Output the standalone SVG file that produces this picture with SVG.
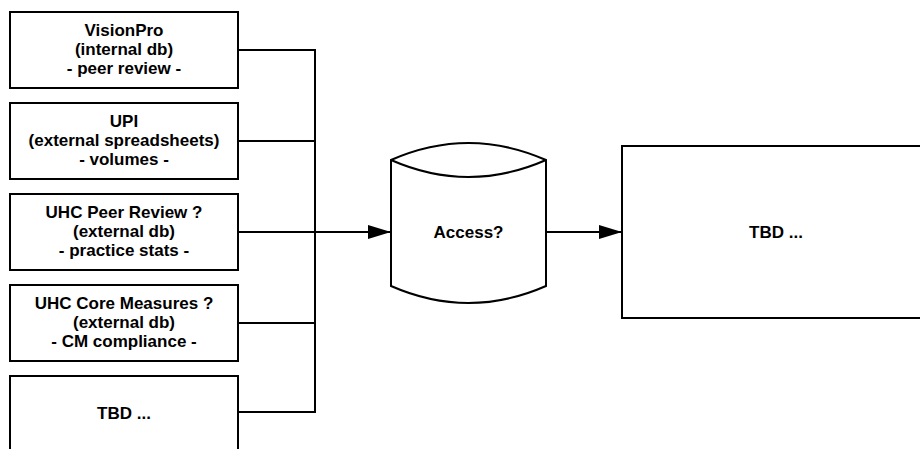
<svg xmlns="http://www.w3.org/2000/svg" width="920" height="449" viewBox="0 0 920 449">
<style>
.box{fill:#fff;stroke:#000;stroke-width:2}
.t{font-family:"Liberation Sans",Arial,sans-serif;font-weight:bold;font-size:17px;text-anchor:middle;fill:#000}
.c{fill:none;stroke:#000;stroke-width:2}
</style>
<defs>
<marker id="ah" markerUnits="userSpaceOnUse" markerWidth="24" markerHeight="16" refX="23" refY="7" orient="auto">
<polygon points="0,0 23,7 0,14" fill="#000"/>
</marker>
</defs>
<rect width="920" height="449" fill="#fff"/>
<g id="connectors">
<path class="c" d="M238,50 H315 V412 H238"/>
<path class="c" d="M238,141 H315"/>
<path class="c" d="M238,232 H315"/>
<path class="c" d="M238,323 H315"/>
<path class="c" d="M315,232 H391" stroke-width="3" marker-end="url(#ah)"/>
<path class="c" d="M546,232 H622" marker-end="url(#ah)"/>
</g>
<g id="n1">
<rect class="box" x="10" y="12" width="228" height="76"/>
<text class="t" x="124" y="36">VisionPro</text>
<text class="t" x="124" y="55">(internal db)</text>
<text class="t" x="124" y="74">- peer review -</text>
</g>
<g id="n2">
<rect class="box" x="10" y="103" width="228" height="76"/>
<text class="t" x="124" y="127">UPI</text>
<text class="t" x="124" y="146">(external spreadsheets)</text>
<text class="t" x="124" y="165">- volumes -</text>
</g>
<g id="n3">
<rect class="box" x="10" y="194" width="228" height="76"/>
<text class="t" x="124" y="218">UHC Peer Review ?</text>
<text class="t" x="124" y="237">(external db)</text>
<text class="t" x="124" y="256">- practice stats -</text>
</g>
<g id="n4">
<rect class="box" x="10" y="285" width="228" height="76"/>
<text class="t" x="124" y="309">UHC Core Measures ?</text>
<text class="t" x="124" y="328">(external db)</text>
<text class="t" x="124" y="347">- CM compliance -</text>
</g>
<g id="n5">
<rect class="box" x="10" y="376" width="228" height="90"/>
<text class="t" x="124" y="419">TBD ...</text>
</g>
<g id="access">
<path class="box" d="M391,160 Q468.5,126 546,160 L546,286 Q468.5,320 391,286 Z"/>
<path class="c" d="M391,160 Q468.5,194 546,160"/>
<text class="t" x="468.5" y="238">Access?</text>
</g>
<g id="out">
<rect class="box" x="622" y="146" width="310" height="172"/>
<text class="t" x="776" y="238">TBD ...</text>
</g>
</svg>
